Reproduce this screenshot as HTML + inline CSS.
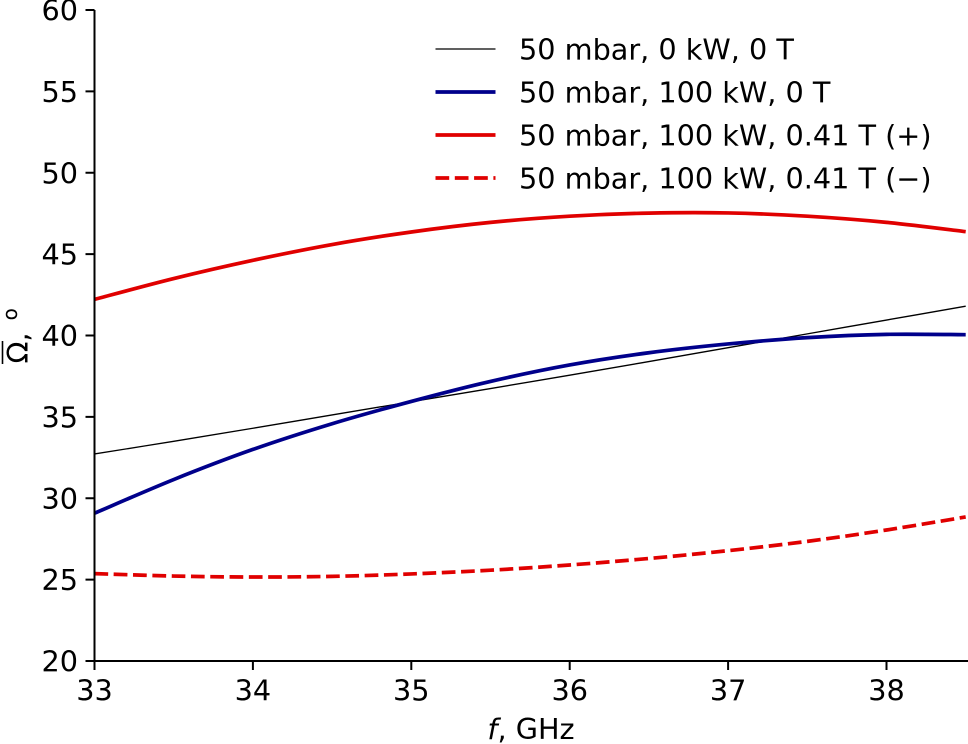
<!DOCTYPE html>
<html lang="en">
<head>
<meta charset="utf-8">
<title>Omega vs frequency</title>
<style>
html,body{margin:0;padding:0;background:#fff;width:968px;height:744px;overflow:hidden}
svg{display:block}
text{font-family:"DejaVu Sans","Liberation Sans",sans-serif;fill:#000}
</style>
</head>
<body>
<svg id="chart" xmlns="http://www.w3.org/2000/svg" width="968" height="744" viewBox="0 0 968 744"></svg>
<script>
const xTicks = [33, 34, 35, 36, 37, 38];
const yTicks = [20, 25, 30, 35, 40, 45, 50, 55, 60];
const frequencies = [33, 33.5, 34, 34.5, 35, 35.5, 36, 36.5, 37, 37.5, 38, 38.5];
const baselineValues = [32.72, 33.5, 34.3, 35.12, 35.93, 36.74, 37.56, 38.4, 39.25, 40.1, 40.95, 41.8];
const power0TValues = [29.08, 31.15, 33.0, 34.58, 35.95, 37.18, 38.19, 38.94, 39.48, 39.87, 40.07, 40.05];
const plusFieldValues = [42.22, 43.5, 44.62, 45.59, 46.36, 46.95, 47.33, 47.52, 47.53, 47.33, 46.95, 46.38];
const minusFieldValues = [25.37, 25.22, 25.16, 25.2, 25.35, 25.58, 25.9, 26.3, 26.78, 27.35, 28.05, 28.85];
const legendLabels = ["50 mbar, 0 kW, 0 T", "50 mbar, 100 kW, 0 T", "50 mbar, 100 kW, 0.41 T (+)", "50 mbar, 100 kW, 0.41 T (\u2212)"];

const NS = "http://www.w3.org/2000/svg";
const svg = document.getElementById("chart");
const xScale = v => 94.5 + (v - 33) * 158.4;
const yScale = v => 661 - (v - 20) * 16.275;
const FONT = 28.7;

function make(tag, attrs, parent) {
  const el = document.createElementNS(NS, tag);
  for (const k in attrs) el.setAttribute(k, attrs[k]);
  (parent || svg).appendChild(el);
  return el;
}

function curvePath(xs, ys) {
  const p = xs.map((x, i) => [xScale(x), yScale(ys[i])]);
  let d = "M" + p[0][0].toFixed(2) + "," + p[0][1].toFixed(2);
  for (let i = 0; i < p.length - 1; i++) {
    const a = p[Math.max(i - 1, 0)], b = p[i], c = p[i + 1], e = p[Math.min(i + 2, p.length - 1)];
    const c1x = b[0] + (c[0] - a[0]) / 6, c1y = b[1] + (c[1] - a[1]) / 6;
    const c2x = c[0] - (e[0] - b[0]) / 6, c2y = c[1] - (e[1] - b[1]) / 6;
    d += "C" + [c1x, c1y, c2x, c2y, c[0], c[1]].map(n => n.toFixed(2)).join(",");
  }
  return d;
}

const defs = make("defs", {});
const clip = make("clipPath", { id: "plot-clip" }, defs);
make("rect", { x: 94.5, y: 0, width: 873.5, height: 661 }, clip);

const plot = make("g", { "clip-path": "url(#plot-clip)" });



const baselineLine = make("path", { d: curvePath(frequencies, baselineValues), fill: "none", stroke: "#000", "stroke-width": 1.35 }, plot);



const power0TLine = make("path", { d: curvePath(frequencies, power0TValues), fill: "none", stroke: "#00008b", "stroke-width": 3.7 }, plot);



const plusFieldLine = make("path", { d: curvePath(frequencies, plusFieldValues), fill: "none", stroke: "#e00000", "stroke-width": 3.7 }, plot);



const minusFieldLine = make("path", { d: curvePath(frequencies, minusFieldValues), fill: "none", stroke: "#e00000", "stroke-width": 3.7, "stroke-dasharray": "13.7 5.6" }, plot);



const yAxisLine = make("line", { x1: 94.5, x2: 94.5, y1: 10, y2: 662, stroke: "#000", "stroke-width": 2 });



const xAxisLine = make("line", { x1: 93.5, x2: 968, y1: 661, y2: 661, stroke: "#000", "stroke-width": 2 });



yTicks.forEach(v => {
  const y = yScale(v);
  const tick = make("line", { x1: 85.5, x2: 94.5, y1: y, y2: y, stroke: "#000", "stroke-width": 2 });
  
  
  const label = make("text", { x: 78, y: y + 10.5, "text-anchor": "end", "font-size": FONT });
  
  
  label.textContent = v;
});

xTicks.forEach(v => {
  const x = xScale(v);
  const tick = make("line", { x1: x, x2: x, y1: 661, y2: 670, stroke: "#000", "stroke-width": 2 });
  
  
  const label = make("text", { x: x, y: 700.5, "text-anchor": "middle", "font-size": FONT });
  
  
  label.textContent = v;
});

const xTitle = make("text", { x: 531, y: 739, "text-anchor": "middle", "font-size": FONT });


const xTitleF = make("tspan", { "font-style": "italic" }, xTitle);
xTitleF.textContent = "f";
xTitle.appendChild(document.createTextNode(", GHz"));

const yTitle = make("text", { transform: "translate(28,363.5) rotate(-90)", "font-size": FONT });


yTitle.textContent = "\u03A9, ";
const yTitleDegree = make("tspan", { "font-size": 20, dy: -11, dx: 3 }, yTitle);
yTitleDegree.textContent = "o";
const yTitleBar = make("line", { x1: 2.5, x2: 2.5, y1: 341, y2: 364, stroke: "#000", "stroke-width": 1.6 });



const legend = make("g", {});


const legendY = [49, 92, 135, 178];
const legendStyles = [
  { stroke: "#000", w: 1.35, dash: "" },
  { stroke: "#00008b", w: 3.7, dash: "" },
  { stroke: "#e00000", w: 3.7, dash: "" },
  { stroke: "#e00000", w: 3.7, dash: "13.7 5.6" }
];
legendLabels.forEach((t, i) => {
  const attrs = { x1: 435.5, x2: 495.5, y1: legendY[i], y2: legendY[i], stroke: legendStyles[i].stroke, "stroke-width": legendStyles[i].w };
  if (legendStyles[i].dash) attrs["stroke-dasharray"] = legendStyles[i].dash;
  const swatch = make("line", attrs, legend);
  
  
  const label = make("text", { x: 519, y: legendY[i] + 10.5, "font-size": FONT }, legend);
  
  
  label.textContent = t;
});
</script>
</body>
</html>
